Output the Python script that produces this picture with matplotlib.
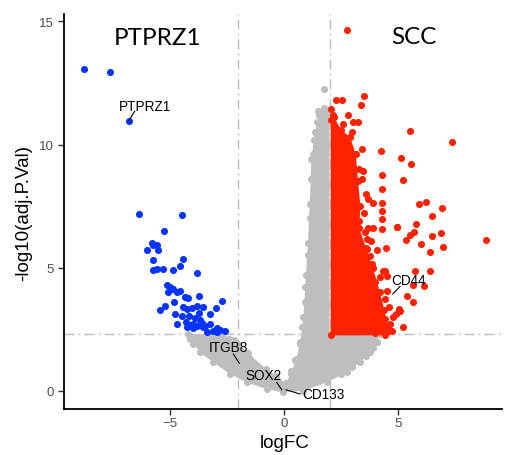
import matplotlib
matplotlib.use("Agg")
import matplotlib.pyplot as plt
import numpy as np

plt.rcParams['font.family'] = ['Liberation Sans', 'DejaVu Sans']

# ---- data ----
# blue: significantly down (logFC < -2, -log10(adj.P) > 2.3)
blue_x = [-8.79, -7.63, -6.81, -6.36, -4.47, -5.28, -5.80, -5.58, -5.73, -6.03, -5.51,
          -5.73, -4.42, -5.73, -5.56, -5.32, -4.87, -4.55, -3.83, -5.15, -5.00, -4.86,
          -5.07, -4.71, -4.56, -4.34, -4.19, -3.71, -4.82, -5.44, -5.22, -4.42, -4.25,
          -4.05, -3.80, -3.57, -2.73, -2.98, -4.78, -4.49, -4.15, -3.74, -3.68, -3.25,
          -4.71, -4.30, -4.12, -3.97, -3.83, -3.68, -3.54, -3.25, -4.25, -3.97, -3.36,
          -3.10, -2.93, -2.81, -2.95, -3.60, -3.45, -3.90, -2.60]
blue_y = [13.05, 12.95, 10.96, 7.18, 7.13, 6.48, 6.02, 5.92, 5.92, 5.73, 5.71,
          5.33, 5.35, 4.92, 4.95, 4.95, 4.91, 5.06, 4.80, 4.30, 4.20, 4.13,
          4.00, 4.02, 4.07, 3.80, 3.76, 3.85, 3.61, 3.29, 3.43, 3.39, 3.32,
          3.35, 3.46, 3.39, 3.66, 3.35, 3.11, 3.02, 3.02, 3.16, 2.89, 3.12,
          2.71, 2.78, 2.67, 2.71, 2.64, 2.67, 2.58, 2.71, 2.58, 2.54, 2.37,
          2.44, 2.54, 2.48, 2.37, 2.75, 2.62, 2.95, 2.42]

# red: significantly up, isolated points
red_x = [2.78, 3.52, 3.38, 2.27, 2.53, 2.05, 2.16, 3.04, 3.26, 2.60, 5.53, 7.35, 4.25,
         5.15, 5.56, 3.48, 4.28, 3.41, 5.22, 4.28, 3.92, 4.28, 5.92, 6.24, 6.93, 4.28,
         6.48, 4.28, 5.79, 4.97, 4.28, 5.72, 5.53, 6.48, 6.87, 3.63, 5.35, 8.85, 3.63,
         6.02, 6.96, 4.47, 6.39, 4.43, 5.75, 6.40, 4.50, 5.67, 6.16, 4.50, 4.43, 5.64,
         5.38, 5.04, 4.80, 4.65, 5.23, 4.50,
         3.77, 3.85, 4.36, 4.21, 4.00, 4.60, 4.90, 4.72, 4.30, 3.60, 3.30, 3.50, 3.60,
         3.30, 3.40, 3.00, 2.80, 3.70, 3.90, 3.80, 4.10, 4.10, 4.20, 4.45, 4.00, 3.70,
         3.55, 5.09, 4.94]
red_y = [14.65, 11.95, 11.59, 11.79, 11.82, 11.45, 11.18, 10.91, 10.91, 10.84, 10.54, 10.10, 9.72,
         9.45, 9.22, 8.94, 8.77, 8.61, 8.54, 8.20, 7.63, 7.63, 7.59, 7.66, 7.44, 7.32,
         7.09, 6.98, 6.78, 6.67, 6.57, 6.46, 6.33, 6.30, 6.40, 6.17, 6.14, 6.11, 5.76,
         5.94, 5.85, 5.80, 5.63, 4.88, 4.88, 4.88, 4.68, 4.30, 4.27, 4.07, 3.73, 3.62,
         3.86, 3.32, 2.98, 2.71, 2.60, 2.37,
         5.49, 5.15, 4.88, 4.61, 4.40, 3.40, 3.10, 2.44, 2.90, 5.30, 6.90, 7.20, 8.00,
         9.00, 9.80, 10.50, 11.20, 7.80, 6.60, 6.10, 5.70, 3.60, 3.20, 2.90, 2.35, 6.60,
         6.45, 3.25, 6.64]

# red: dense core outline (logFC, -log10 adj.P)
red_core_x = [2.05, 2.05, 2.20, 2.50, 2.90, 3.15, 3.25, 3.35, 3.30, 3.60, 3.90, 4.20, 4.40, 4.55, 4.45]
red_core_y = [2.25, 11.00, 11.10, 10.60, 10.30, 9.60, 8.50, 7.50, 6.60, 5.80, 5.00, 4.00, 3.30, 2.60, 2.25]

# grey: non-significant cloud outline
grey_env_x = [-4.20, -2.70, -2.20, -1.60, -0.80, -0.35, 0.08, 0.30, 0.55, 0.72, 0.85, 0.93,
              1.05, 1.13, 1.20, 1.35, 1.55, 1.75, 2.00, 2.00, 4.20, 4.07, 3.77, 3.33,
              2.75, 1.87, 0.85, -0.03, -0.76, -1.64, -2.37, -3.10, -3.68, -4.12]
grey_env_y = [2.30, 2.30, 2.05, 1.55, 0.90, 0.60, 0.30, 0.70, 1.30, 2.00, 3.00, 4.20,
              6.00, 7.60, 9.40, 10.50, 11.20, 11.50, 11.40, 2.30, 2.30, 1.97, 1.56, 1.15,
              0.75, 0.34, 0.00, -0.07, 0.07, 0.34, 0.68, 1.15, 1.56, 2.10]
# grey: isolated points at the cloud edge
grey_x = [1.75, 1.61, 1.94, 1.45, 1.30, 1.25, 1.18, 1.12, 1.05, 0.98, 0.90, 0.80, 0.70,
          0.50, 0.30, -3.97, -4.12, 4.21, 4.07, 3.90, 3.60, 3.30, 3.00, 2.50, -1.00,
          -1.50, -2.00, -2.40, -0.50, 1.90, 1.50, 3.84]
grey_y = [12.26, 11.18, 11.30, 10.90, 10.20, 9.60, 8.60, 7.00, 5.50, 4.70, 3.60, 2.60, 1.90,
          1.25, 0.80, 1.90, 2.24, 2.30, 2.00, 1.75, 1.40, 1.30, 0.95, 0.70, 0.85,
          1.30, 1.90, 2.10, 0.60, 10.90, 11.35, 1.83]

# thresholds
fc_cut = [-2, 2]
p_cut = 2.3

# gene labels
gene_names = ['PTPRZ1', 'ITGB8', 'SOX2', 'CD133', 'CD44']
gene_text_x = [-6.10, -2.44, -0.88, 1.75, 5.48]
gene_text_y = [11.57, 1.78, 0.64, -0.13, 4.50]
seg_x0 = [-6.55, -2.22, -0.32, 0.09, 5.09]
seg_y0 = [11.35, 1.49, 0.34, 0.04, 4.24]
seg_x1 = [-6.81, -1.96, -0.10, 0.70, 4.77]
seg_y1 = [10.96, 1.12, 0.04, -0.13, 3.93]

# group titles
group_names = ['PTPRZ1', 'SCC']
group_x = [-5.53, 5.70]
group_y = [14.34, 14.40]

GREY = '#BEBEBE'
RED = '#FF2200'
BLUE = '#0533FF'

fig = plt.figure(figsize=(5.05, 4.56), dpi=100)
ax = fig.add_axes([0.1267, 0.1009, 0.8673, 0.8662])

dash = (7.2, 2.9, 1.4, 2.9)
for v in fc_cut:
    ax.axvline(v, color=GREY, lw=1.0, dashes=dash, zorder=1)
ax.axhline(p_cut, color=GREY, lw=1.0, dashes=dash, zorder=1)

S = 26
ax.fill(grey_env_x, grey_env_y, color=GREY, lw=0, zorder=2)
ax.scatter(grey_env_x, grey_env_y, s=S, color=GREY, lw=0, zorder=2)
ax.scatter(grey_x, grey_y, s=S, color=GREY, lw=0, zorder=2)

ax.fill(red_core_x, red_core_y, color=RED, lw=0, zorder=3)
ax.scatter(red_core_x, red_core_y, s=S, color=RED, lw=0, zorder=3)
ax.scatter(red_x, red_y, s=S, color=RED, lw=0, zorder=3)

ax.scatter(blue_x, blue_y, s=S, color=BLUE, lw=0, zorder=3)

for name, tx, ty, x0, y0, x1, y1 in zip(gene_names, gene_text_x, gene_text_y,
                                         seg_x0, seg_y0, seg_x1, seg_y1):
    ax.plot([x0, x1], [y0, y1], color='black', lw=0.8, zorder=4)
    ax.text(tx, ty, name, fontsize=9.8, ha='center', va='center', color='black', zorder=5)

for name, gx, gy in zip(group_names, group_x, group_y):
    ax.text(gx, gy, name, fontsize=17.5, ha='center', va='center', color='black',
            family=['Lato', 'DejaVu Sans'], zorder=5)

ax.set_xlim(-9.65, 9.56)
ax.set_ylim(-0.74, 15.3)
ax.set_xticks([-5, 0, 5])
ax.set_yticks([0, 5, 10, 15])

for s in ['top', 'right']:
    ax.spines[s].set_visible(False)
for s in ['left', 'bottom']:
    ax.spines[s].set_linewidth(1.3)
    ax.spines[s].set_color('black')

ax.tick_params(axis='both', length=4, width=1.0, color='#333333',
               labelcolor='#4D4D4D', labelsize=9.6)
ax.tick_params(axis='x', pad=2)
ax.tick_params(axis='y', pad=3)

ax.set_xlabel('logFC', fontsize=13.5)
ax.set_ylabel('-log10(adj.P.Val)', fontsize=13.5)
ax.xaxis.set_label_coords(0.5046, -0.063)
ax.yaxis.set_label_coords(-0.073, 0.499)

fig.savefig('out.png', dpi=100)
